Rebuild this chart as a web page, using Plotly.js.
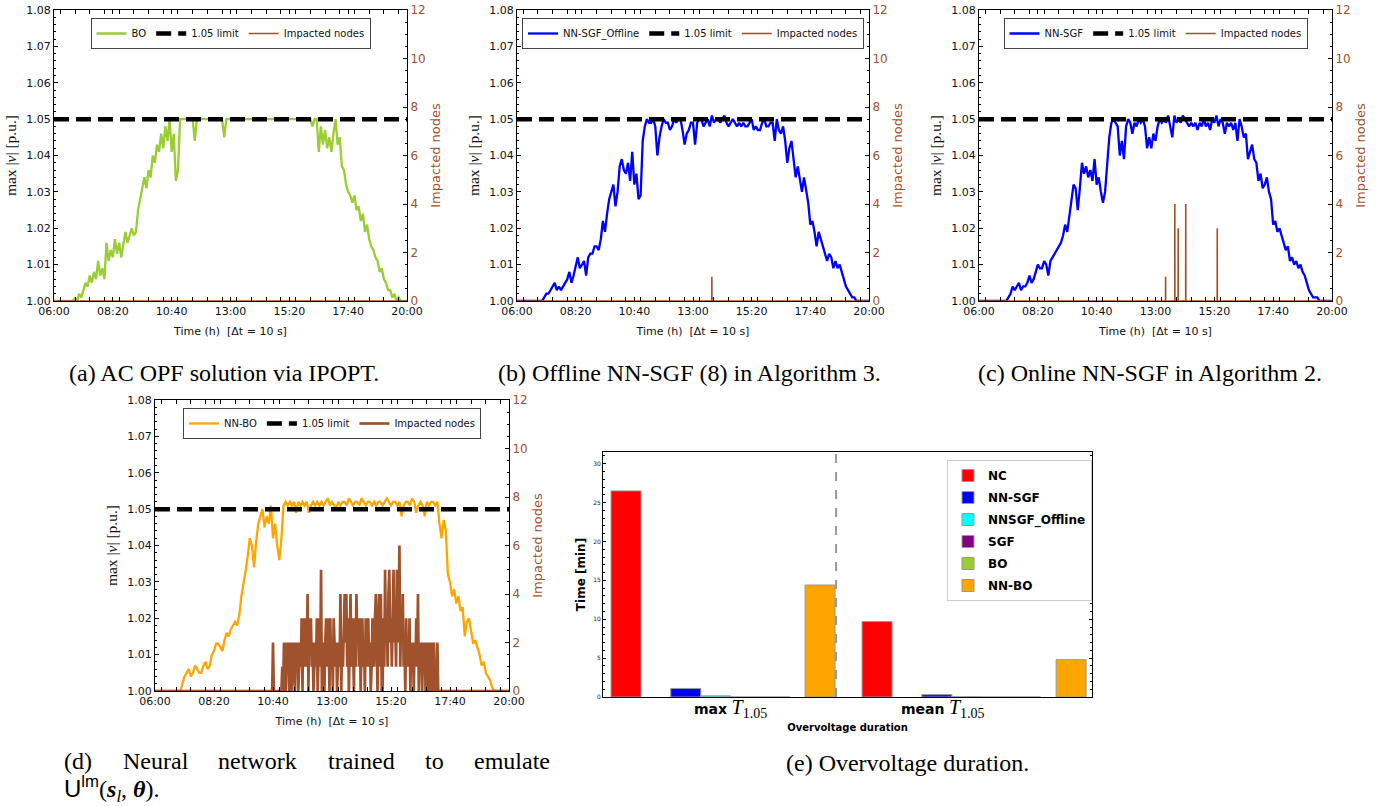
<!DOCTYPE html>
<html><head><meta charset="utf-8">
<script src="https://cdn.plot.ly/plotly-3.0.1.min.js"></script>
<style>html,body{margin:0;padding:0;background:#fff;} #chart{width:1392px;height:806px;}</style>
</head><body><div id="chart"></div>
<script>
// ---------------- DATA ----------------
const dayStart = '06:00';
const dayEnd = '20:00';
const stepMin = 5;           // sampling of the transcribed voltage curves (min)
const limitValue = 1.05;

const boVoltage = [
1.000,1.000,1.000,1.000,1.000,1.000,1.000,1.000,1.000,1.000,
1.001,1.000,1.002,1.001,1.003,1.005,1.004,1.007,1.005,1.008,
1.006,1.011,1.007,1.009,1.006,1.016,1.011,1.014,1.012,1.017,
1.013,1.016,1.012,1.015,1.019,1.016,1.018,1.020,1.018,1.019,
1.025,1.028,1.030,1.034,1.031,1.036,1.034,1.040,1.038,1.043,
1.041,1.046,1.042,1.048,1.044,1.050,1.041,1.046,1.033,1.036,
1.050,1.050,1.050,1.050,1.050,1.050,1.050,1.044,1.050,1.050,
1.050,1.050,1.050,1.050,1.050,1.050,1.050,1.050,1.050,1.050,
1.050,1.045,1.050,1.050,1.050,1.050,1.050,1.050,1.050,1.050,
1.050,1.050,1.050,1.050,1.050,1.050,1.050,1.050,1.050,1.050,
1.050,1.050,1.050,1.050,1.050,1.050,1.050,1.050,1.050,1.050,
1.050,1.050,1.050,1.050,1.050,1.050,1.050,1.050,1.050,1.050,
1.050,1.050,1.050,1.048,1.050,1.050,1.041,1.048,1.043,1.047,
1.042,1.045,1.041,1.046,1.050,1.043,1.045,1.037,1.036,1.032,
1.030,1.029,1.027,1.029,1.025,1.026,1.022,1.024,1.019,1.021,
1.017,1.015,1.014,1.012,1.011,1.008,1.009,1.006,1.005,1.003,
1.003,1.001,1.002,1.000,1.001,1.000,1.000,1.000,1.000];

const offlineVoltage = [
1.000,1.000,1.000,1.000,1.000,1.000,1.000,1.000,1.000,1.000,
1.000,1.000,1.000,1.001,1.002,1.002,1.003,1.004,1.005,1.003,
1.004,1.003,1.004,1.005,1.006,1.008,1.005,1.007,1.010,1.012,
1.009,1.010,1.011,1.007,1.012,1.013,1.013,1.015,1.015,1.014,
1.017,1.022,1.019,1.024,1.028,1.030,1.032,1.026,1.030,1.037,
1.039,1.036,1.035,1.038,1.033,1.041,1.032,1.035,1.028,1.029,
1.044,1.048,1.050,1.049,1.049,1.050,1.048,1.040,1.045,1.048,
1.050,1.049,1.049,1.047,1.048,1.050,1.049,1.050,1.050,1.047,
1.043,1.046,1.047,1.049,1.049,1.043,1.049,1.050,1.050,1.048,
1.049,1.050,1.048,1.051,1.049,1.050,1.050,1.049,1.050,1.051,
1.049,1.048,1.049,1.050,1.049,1.048,1.049,1.048,1.049,1.048,
1.048,1.049,1.050,1.047,1.048,1.047,1.047,1.049,1.050,1.048,
1.048,1.049,1.049,1.044,1.050,1.047,1.046,1.048,1.044,1.038,
1.042,1.044,1.038,1.034,1.037,1.033,1.030,1.034,1.031,1.027,
1.021,1.022,1.019,1.015,1.019,1.017,1.015,1.013,1.011,1.013,
1.012,1.009,1.011,1.009,1.010,1.008,1.006,1.004,1.003,1.002,
1.001,1.001,1.000,1.000,1.000,1.000,1.000,1.000,1.000];

const onlineVoltage = [
1.000,1.000,1.000,1.000,1.000,1.000,1.000,1.000,1.000,1.000,
1.000,1.000,1.000,1.000,1.001,1.002,1.004,1.003,1.004,1.005,
1.003,1.004,1.004,1.005,1.007,1.005,1.006,1.008,1.010,1.009,
1.009,1.011,1.010,1.007,1.011,1.012,1.013,1.014,1.015,1.016,
1.018,1.021,1.019,1.023,1.027,1.032,1.031,1.025,1.031,1.038,
1.035,1.037,1.034,1.036,1.033,1.039,1.032,1.034,1.030,1.027,
1.030,1.038,1.045,1.049,1.050,1.049,1.048,1.040,1.044,1.039,
1.048,1.050,1.049,1.046,1.049,1.048,1.050,1.049,1.050,1.048,
1.042,1.045,1.042,1.046,1.044,1.048,1.050,1.049,1.050,1.049,
1.051,1.048,1.045,1.051,1.049,1.050,1.049,1.051,1.050,1.049,
1.048,1.049,1.048,1.049,1.047,1.049,1.048,1.050,1.048,1.049,
1.047,1.050,1.049,1.051,1.048,1.050,1.049,1.046,1.049,1.048,
1.049,1.047,1.049,1.044,1.050,1.048,1.045,1.046,1.039,1.041,
1.043,1.039,1.038,1.033,1.035,1.031,1.032,1.034,1.030,1.028,
1.021,1.022,1.019,1.020,1.018,1.016,1.014,1.015,1.011,1.012,
1.010,1.011,1.009,1.010,1.008,1.007,1.005,1.003,1.002,1.001,
1.001,1.001,1.000,1.000,1.000,1.000,1.000,1.000,1.000];

const nnboVoltage = [
1.000,1.000,1.000,1.000,1.000,1.000,1.000,1.000,1.000,1.000,
1.000,1.000,1.000,1.002,1.004,1.005,1.006,1.004,1.005,1.007,
1.006,1.005,1.005,1.007,1.008,1.006,1.007,1.010,1.011,1.013,
1.013,1.012,1.011,1.014,1.016,1.015,1.017,1.018,1.019,1.018,
1.021,1.026,1.029,1.033,1.037,1.042,1.040,1.034,1.041,1.046,
1.048,1.050,1.045,1.048,1.046,1.051,1.042,1.046,1.040,1.036,
1.042,1.051,1.052,1.051,1.052,1.051,1.052,1.049,1.052,1.051,
1.052,1.051,1.052,1.049,1.051,1.052,1.051,1.052,1.051,1.052,
1.051,1.052,1.053,1.051,1.052,1.051,1.050,1.052,1.051,1.052,
1.052,1.051,1.053,1.052,1.051,1.052,1.052,1.051,1.053,1.052,
1.051,1.052,1.052,1.051,1.052,1.051,1.052,1.052,1.051,1.052,
1.053,1.052,1.051,1.052,1.052,1.051,1.052,1.048,1.051,1.052,
1.052,1.051,1.053,1.052,1.049,1.051,1.052,1.051,1.048,1.052,
1.051,1.052,1.052,1.051,1.052,1.046,1.042,1.047,1.044,1.032,
1.030,1.026,1.028,1.024,1.026,1.022,1.023,1.015,1.019,1.020,
1.017,1.013,1.014,1.012,1.010,1.007,1.008,1.005,1.004,1.003,
1.001,1.000,1.000,1.000,1.000,1.000,1.000,1.000,1.000];

// impacted nodes (right axis)
const boSpikeTimes = [];
const boSpikeValues = [];
const offlineSpikeTimes = ['13:45'];
const offlineSpikeValues = [1];
const onlineSpikeTimes = ['13:24','13:46','13:54','14:12','15:27'];
const onlineSpikeValues = [1,4,3,4,3];
const nnboNodesStart = '10:36';
const nnboNodesStepMin = 2;
const nnboNodes = [
0,0,2,0,0,0,0,0,0,0,
0,0,0,1,0,2,1,0,2,1,
2,0,1,2,0,1,2,1,0,2,
1,2,0,1,2,1,3,0,3,1,
2,3,1,4,0,3,2,3,1,2,
0,1,2,1,3,0,2,3,1,5,
0,2,1,0,2,3,1,3,2,0,
3,1,2,0,3,2,1,2,0,1,
2,1,4,0,2,1,3,4,2,4,
1,3,0,2,4,1,3,2,0,3,
1,4,2,3,1,3,0,2,3,1,
2,0,3,1,2,3,1,2,0,1,
3,2,1,3,4,2,0,3,4,1,
4,0,0,3,1,5,2,3,1,4,
5,2,3,1,4,5,2,3,1,5,
2,3,6,1,3,2,4,1,2,0,
3,1,2,1,3,0,2,1,2,0,
2,1,3,1,4,0,2,1,2,0,
2,1,2,0,1,2,0,2,1,0,
2,1,0,2,0,1,0,2,0,0];

// overvoltage duration bar chart (minutes)
const durationCategories = ['max', 'mean'];
const durationLabels = ['<b>max</b> <span style="font-family:\'Liberation Serif\';font-size:20px"><i>T</i><sub>1.05</sub></span>',
                        '<b>mean</b> <span style="font-family:\'Liberation Serif\';font-size:20px"><i>T</i><sub>1.05</sub></span>'];
const methodNames = ['NC', 'NN-SGF', 'NNSGF_Offline', 'SGF', 'BO', 'NN-BO'];
const ncDuration = [26.5, 9.7];
const nnsgfDuration = [1.1, 0.3];
const offlineDuration = [0.15, 0.03];
const sgfDuration = [0, 0];
const boDuration = [0, 0];
const nnboDuration = [14.4, 4.8];

// ---------------- HELPERS ----------------
const W = 1392, H = 806;
const pad = n => String(n).padStart(2, '0');
function hm(s){ const [h,m] = s.split(':').map(Number); return h*60+m; }
function stamp(totMin){
  const secs = Math.round(totMin*60);
  const h = Math.floor(secs/3600), m = Math.floor((secs%3600)/60), s = secs%60;
  return `2024-01-01 ${pad(h)}:${pad(m)}:${pad(s)}`;
}
const t0 = hm(dayStart), t1 = hm(dayEnd);
const seriesTimes = arr => arr.map((_, i) => stamp(t0 + i*stepMin));
function spikeLine(times, vals){
  const x = [stamp(t0)], y = [0];
  const dt = 10/60;
  times.forEach((t, i) => { const m = hm(t); x.push(stamp(m-dt), stamp(m), stamp(m+dt)); y.push(0, vals[i], 0); });
  x.push(stamp(t1)); y.push(0);
  return {x, y};
}
function denseLine(start, step, vals){
  const x = [stamp(t0)], y = [0];
  const s = hm(start);
  vals.forEach((v, k) => { x.push(stamp(s + k*step)); y.push(v); });
  x.push(stamp(t1)); y.push(0);
  return {x, y};
}
const px2x = (a,b) => [a/W, b/W];
const px2y = (top,bottom) => [1-bottom/H, 1-top/H];

const tickFont = {family:'DejaVu Sans', size:11, color:'#111'};
const brown = '#A0522D';

const panels = [
  {x:[54,407],  y:[10,301],  name:'BO',             color:'#9ACD32', v:boVoltage,      nodes:spikeLine(boSpikeTimes, boSpikeValues), nw:1.6},
  {x:[517,869], y:[10,301],  name:'NN-SGF_Offline', color:'#0000FF', v:offlineVoltage, nodes:spikeLine(offlineSpikeTimes, offlineSpikeValues), nw:1.6},
  {x:[979,1332],y:[10,301],  name:'NN-SGF',         color:'#0000FF', v:onlineVoltage,  nodes:spikeLine(onlineSpikeTimes, onlineSpikeValues), nw:1.6},
  {x:[155,509], y:[400,691], name:'NN-BO',          color:'#FFA500', v:nnboVoltage,    nodes:denseLine(nnboNodesStart, nnboNodesStepMin, nnboNodes), nw:2.7}
];

const data = [];
const layout = {
  width: W, height: H, margin:{l:0,r:0,t:0,b:0},
  paper_bgcolor:'#fff', plot_bgcolor:'#fff', showlegend:true,
  annotations: [], shapes: []
};

panels.forEach((p, i) => {
  const xi = i+1, yl = 2*i+1, yr = 2*i+2;
  const xn = xi===1 ? 'x' : 'x'+xi;
  const yln = yl===1 ? 'y' : 'y'+yl;
  const yrn = 'y'+yr;
  const lg = i===0 ? 'legend' : 'legend'+(i+1);
  data.push({type:'scatter', mode:'lines', name:p.name, x:seriesTimes(p.v), y:p.v,
    xaxis:xn, yaxis:yln, legend:lg, line:{color:p.color, width:2.3}, hoverinfo:'skip'});
  data.push({type:'scatter', mode:'lines', name:'1.05 limit', x:[stamp(t0), stamp(t1)], y:[limitValue, limitValue],
    xaxis:xn, yaxis:yln, legend:lg, line:{color:'#000', width:4.5, dash:'15px,7px'}, hoverinfo:'skip'});
  data.push({type:'scatter', mode:'lines', name:'Impacted nodes', x:p.nodes.x, y:p.nodes.y,
    xaxis:xn, yaxis:yrn, legend:lg, line:{color:brown, width:p.nw}, hoverinfo:'skip'});

  layout['xaxis'+(xi===1?'':xi)] = {
    domain:px2x(p.x[0], p.x[1]), anchor:yln, type:'date',
    range:[stamp(t0), stamp(t1)], tick0:stamp(t0), dtick:140*60000, tickformat:'%H:%M',
    ticks:'inside', ticklen:4, tickwidth:1, tickcolor:'#000',
    showline:true, linecolor:'#000', linewidth:1, mirror:'allticks',
    showgrid:false, zeroline:false, tickfont:tickFont,
    minor:{dtick:35*60000, ticks:'inside', ticklen:2, tickcolor:'#000', showgrid:false},
    title:{text:'Time (h)\u00a0\u00a0[Δt = 10 s]', font:{family:'DejaVu Sans', size:11, color:'#111'}, standoff:10}
  };
  layout['yaxis'+(yl===1?'':yl)] = {
    domain:px2y(p.y[0], p.y[1]), anchor:xn, range:[1.0, 1.08], dtick:0.01, tickformat:'.2f',
    ticks:'inside', ticklen:4, tickwidth:1, tickcolor:'#000',
    showline:true, linecolor:'#000', linewidth:1, mirror:false,
    showgrid:false, zeroline:false, tickfont:tickFont,
    minor:{dtick:0.002, ticks:'inside', ticklen:2, tickcolor:'#000', showgrid:false},
    title:{text:'max |<i>ν</i>| [p.u.]', font:{family:'Liberation Serif', size:15.5, color:'#111'}, standoff:5}
  };
  layout['yaxis'+yr] = {
    overlaying:yln, anchor:xn, side:'right', range:[0,12], dtick:2,
    ticks:'inside', ticklen:4, tickwidth:1, tickcolor:'#000',
    showline:true, linecolor:'#000', linewidth:1,
    showgrid:false, zeroline:false, tickfont:{family:'DejaVu Sans', size:12, color:brown},
    minor:{dtick:0.5, ticks:'inside', ticklen:2, tickcolor:'#000', showgrid:false},
    title:{text:'Impacted nodes', font:{family:'DejaVu Sans', size:13, color:brown}, standoff:6}
  };
  layout[lg] = {
    orientation:'h', x:(p.x[0]+p.x[1])/2/W, xanchor:'center', y:1-(p.y[0]+8)/H, yanchor:'top',
    bgcolor:'#fff', bordercolor:'#444', borderwidth:1,
    font:{family:'DejaVu Sans', size:10, color:'#111'}, itemwidth:30, traceorder:'normal'
  };
});

// ---- panel (e) bar chart ----
const barColors = ['#FF0000', '#0000FF', '#00FFFF', '#800080', '#9ACD32', '#FFA500'];
const barValues = [ncDuration, nnsgfDuration, offlineDuration, sgfDuration, boDuration, nnboDuration];
const barWidth = 0.1195;
const barOffsets = [-0.474, -0.236, -0.118, 0.0, 0.118, 0.299];
methodNames.forEach((nm, j) => {
  data.push({type:'bar', name:nm, x:durationCategories, y:barValues[j], width:barWidth, offset:barOffsets[j],
    xaxis:'x5', yaxis:'y9', legend:'legend5', legendgroup:'g'+j,
    marker:{color:barColors[j], line:{color:'#999', width:1}}, hoverinfo:'skip'});
});
layout.barmode = 'overlay';
layout.xaxis5 = {
  domain:px2x(603,1092), anchor:'y9', type:'category', range:[-0.506, 1.442],
  showticklabels:false, ticks:'',
  showline:true, linecolor:'#000', linewidth:1, mirror:true, showgrid:false, zeroline:false,
  title:{text:'<b>Overvoltage duration</b>', font:{family:'DejaVu Sans', size:10, color:'#000'}, standoff:26}
};
layout.yaxis9 = {
  domain:px2y(452,697), anchor:'x5', range:[0, 31.5], dtick:5,
  ticks:'inside', ticklen:3, tickwidth:1, tickcolor:'#000',
  showline:true, linecolor:'#000', linewidth:1, mirror:'allticks',
  showgrid:false, zeroline:false, tickfont:{family:'DejaVu Sans', size:6, color:'#222'},
  minor:{dtick:1, ticks:'inside', ticklen:2, tickcolor:'#000', showgrid:false},
  title:{text:'<b>Time [min]</b>', font:{family:'DejaVu Sans', size:12, color:'#000'}, standoff:4}
};
layout.legend5 = {
  x:947/W, xanchor:'left', y:1-460/H, yanchor:'top', bgcolor:'#fff', bordercolor:'#ccc', borderwidth:1,
  font:{family:'DejaVu Sans', size:12, color:'#000', weight:'bold'}, tracegroupgap:3, traceorder:'grouped'
};
// separator between the two groups, just right of the NN-BO "max" bar
layout.shapes.push({type:'line', xref:'x5', yref:'y9 domain',
  x0:barOffsets[5]+barWidth+0.004, x1:barOffsets[5]+barWidth+0.004, y0:0, y1:1,
  line:{color:'#999', width:2, dash:'dash'}});
// group labels
[730, 943].forEach((px, k) => layout.annotations.push({text:durationLabels[k], x:px/W, y:1-708/H,
  xref:'paper', yref:'paper', xanchor:'center', yanchor:'middle', showarrow:false,
  font:{family:'DejaVu Sans', size:14, color:'#000'}}));

// ---- captions ----
const capFont = {family:'Liberation Serif', size:24, color:'#000'};
function cap(text, xc, y, anchor){
  layout.annotations.push({text, x:xc/W, y:1-y/H, xref:'paper', yref:'paper', xanchor:anchor||'center',
    yanchor:'middle', showarrow:false, font:capFont});
}
cap('(a) AC OPF solution via IPOPT.', 224, 373);
cap('(b) Offline NN-SGF (8) in Algorithm 3.', 689, 373);
cap('(c) Online NN-SGF in Algorithm 2.', 1150, 373);
cap('(e) Overvoltage duration.', 907, 763);
(function justify(words, x0, x1, y){
  const c = document.createElement('canvas').getContext('2d');
  c.font = `${capFont.size}px "${capFont.family}"`;
  const widths = words.map(w => c.measureText(w).width);
  const gap = (x1 - x0 - widths.reduce((a,b)=>a+b,0)) / (words.length-1);
  let x = x0;
  words.forEach((w, i) => { cap(w, x, y, 'left'); x += widths[i] + gap; });
})(['(d)', 'Neural', 'network', 'trained', 'to', 'emulate'], 62, 548, 761);
cap('<span style="font-family:\'Liberation Sans\'">U<sup>lm</sup></span>(<b><i>s</i></b><sub><i>l</i></sub>, <b><i>θ</i></b>).', 62, 789, 'left');

Plotly.newPlot('chart', data, layout, {staticPlot:true});
</script>
</body></html>
